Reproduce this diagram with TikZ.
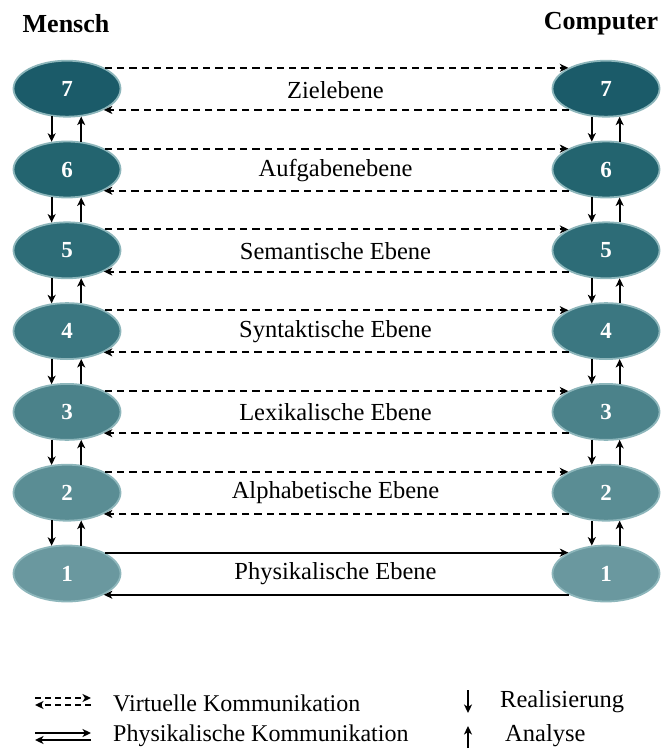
\documentclass[tikz,border=0pt]{standalone}
\usepackage{fontspec}
\setmainfont{Liberation Serif}
\usetikzlibrary{arrows.meta,calc,shapes.geometric}

\definecolor{lvA}{HTML}{6A989F}
\definecolor{lvB}{HTML}{5A8D94}
\definecolor{lvC}{HTML}{4B828A}
\definecolor{lvD}{HTML}{3B7781}
\definecolor{lvE}{HTML}{2D6C77}
\definecolor{lvF}{HTML}{23646F}
\definecolor{lvG}{HTML}{1B5B69}
\definecolor{rim}{HTML}{8DB6BB}

\tikzset{
  level/.style={ellipse, draw=rim, line width=1.8pt, fill=#1,
    minimum width=107pt, minimum height=56pt, inner sep=0pt,
    text=white, font=\fontsize{23}{25}\selectfont\bfseries},
  lbl/.style={font=\fontsize{24.5}{27}\selectfont, inner sep=0pt},
  leg/.style={font=\fontsize{24}{27}\selectfont, inner sep=0pt},
  ttl/.style={font=\fontsize{26}{28}\selectfont\bfseries, inner sep=0pt},
  tip/.style={-{Stealth[length=8.5pt,width=8pt,inset=2.4pt]}},
  virt/.style={tip, line width=2pt, dash pattern=on 7.3pt off 5pt},
  phys/.style={tip, line width=2pt},
  vert/.style={tip, line width=2pt},
  legdash/.style={tip, line width=2pt, dash pattern=on 6pt off 4pt},
}

\begin{document}
\begin{tikzpicture}[x=1pt,y=-1pt]
\useasboundingbox (0,0) rectangle (663,749);

% column titles
\node[ttl] (mensch) at (66,24) {Mensch};
\node[ttl] (computer) at (601,24) {Computer};

% the seven levels on both sides
\foreach \k/\c in {1/lvA,2/lvB,3/lvC,4/lvD,5/lvE,6/lvF,7/lvG}{
  \pgfmathsetmacro{\yy}{573.5-(\k-1)*80.8}
  \node[level=\c] (L\k) at (67,\yy) {\k};
  \node[level=\c] (R\k) at (606,\yy) {\k};
}

% level names
\node[lbl] (t7) at (335.5,90) {Zielebene};
\node[lbl] (t6) at (335.5,170.5) {Aufgabenebene};
\node[lbl] (t5) at (335.5,251) {Semantische Ebene};
\node[lbl] (t4) at (335.5,331.5) {Syntaktische Ebene};
\node[lbl] (t3) at (335.5,412) {Lexikalische Ebene};
\node[lbl] (t2) at (335.5,493) {Alphabetische Ebene};
\node[lbl] (t1) at (335.5,574) {Physikalische Ebene};

% virtual communication between equal levels
\foreach \k in {2,...,7}{
  \draw[virt] (L\k.29) -- (R\k.151);
  \draw[virt] (R\k.-150) -- (L\k.-30);
}
% physical communication
\draw[phys] (L1.29) -- (R1.151);
\draw[phys] (R1.-150) -- (L1.-30);

% realisation (down) and analysis (up)
\foreach \k [evaluate=\k as \j using int(\k-1)] in {2,...,7}{
  \draw[vert] (L\k.-119) -- (L\j.119);
  \draw[vert] (L\j.63) -- (L\k.-63);
  \draw[vert] (R\k.-117) -- (R\j.117);
  \draw[vert] (R\j.64) -- (R\k.-64);
}

% legend
\coordinate (va) at (35,698);
\coordinate (vb) at (91,698);
\coordinate (vc) at (91,705);
\coordinate (vd) at (35,705);
\draw[legdash] (va) -- (vb);
\draw[legdash] (vc) -- (vd);
\node[leg, anchor=west] (lv) at (113,703) {Virtuelle Kommunikation};

\coordinate (pa) at (35,733);
\coordinate (pb) at (91,733);
\coordinate (pc) at (91,740);
\coordinate (pd) at (35,740);
\draw[phys] (pa) -- (pb);
\draw[phys] (pc) -- (pd);
\node[leg, anchor=west] (lp) at (113,736) {Physikalische Kommunikation};

\coordinate (ra) at (468,690);
\coordinate (rb) at (468,713);
\draw[vert] (ra) -- (rb);
\node[lbl, anchor=west] (lr) at (500,702) {Realisierung};

\coordinate (aa) at (468,748);
\coordinate (ab) at (468,726);
\draw[vert] (aa) -- (ab);
\node[lbl, anchor=west] (la) at (505,736) {Analyse};
\end{tikzpicture}
\end{document}
